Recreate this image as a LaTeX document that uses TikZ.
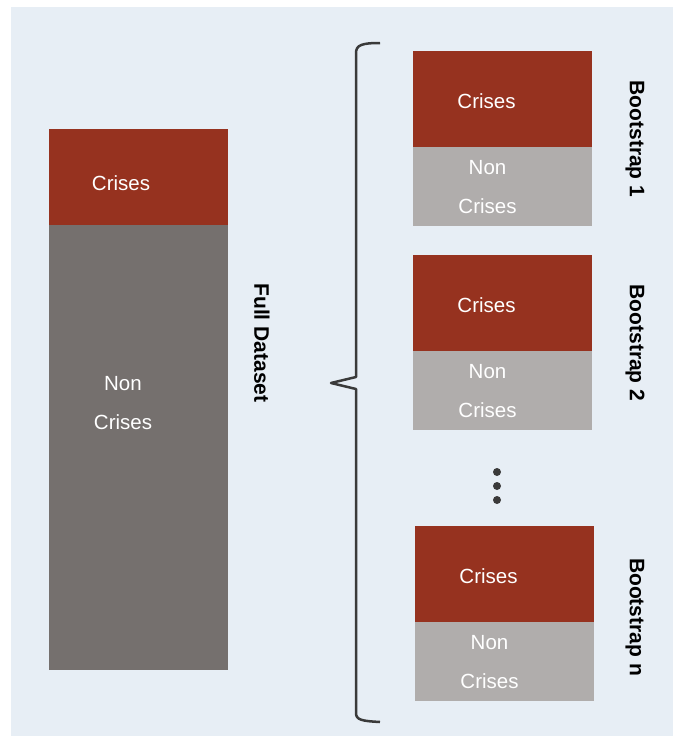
\documentclass[tikz,border=0pt]{standalone}
\usepackage{fontspec}
\setmainfont{Liberation Sans}
\usepackage{tikz}
\usetikzlibrary{positioning}

\definecolor{crisisred}{HTML}{96321F}
\definecolor{fullgray}{HTML}{75706E}
\definecolor{bootgray}{HTML}{B0ADAC}
\definecolor{panelblue}{HTML}{E7EEF5}
\definecolor{bracegray}{HTML}{3A3A3A}

\tikzset{
  crisesbox/.style={fill=crisisred,minimum width=179pt,minimum height=96pt,
    inner sep=0pt,outer sep=0pt,anchor=north west},
  fullbox/.style={fill=fullgray,minimum width=179pt,minimum height=445pt,
    inner sep=0pt,outer sep=0pt},
  nonbox/.style={fill=bootgray,minimum width=179pt,minimum height=79pt,
    inner sep=0pt,outer sep=0pt},
  lbl/.style={text=white,align=center,font=\fontsize{20.5}{39}\selectfont},
  sidelbl/.style={rotate=-90,font=\fontsize{21}{24}\selectfont\bfseries},
  bracestyle/.style={draw=bracegray,line width=2.5pt,line join=round}
}

\begin{document}
\begin{tikzpicture}[x=1pt,y=-1pt]

    \useasboundingbox (0,0) rectangle (673,736);
    \fill[panelblue] (11,7) rectangle (673,736);

    % full dataset
    \node[crisesbox] (fullc) at (49,129) {};
    \node[fullbox,below=0pt of fullc] (fulln) {};
    \node[lbl] (fullct) at (121,183) {Crises};
    \node[lbl] (fullnt) at (123,403) {Non\\Crises};
    \node[sidelbl] (fulllbl) at (262,343) {Full Dataset};

    % brace
    \draw[bracestyle] (380,43) .. controls (362,43) and (356,45) .. (356,53)
      -- (356,377) -- (331,383) -- (356,389) -- (356,713)
      .. controls (356,720) and (362,721) .. (380,722);

    % bootstrap samples
    \foreach \i/\x/\y/\ly in {1/413/51/139, 2/413/255/343, n/415/526/617} {
      \node[crisesbox] (bc\i) at (\x,\y) {};
      \node[nonbox,below=0pt of bc\i] (bn\i) {};
      \node[lbl] (bct\i) at ([xshift=-16pt,yshift=-2pt]bc\i.center) {Crises};
      \node[lbl] (bnt\i) at ([xshift=-15pt,yshift=-1pt]bn\i.center) {Non\\Crises};
      \node[sidelbl] (blbl\i) at (635,\ly) {Bootstrap \i};
    }

    % dots
    \foreach \y in {472,486,500}
      \fill[bracegray] (497,\y) circle (4pt);

\end{tikzpicture}
\end{document}
